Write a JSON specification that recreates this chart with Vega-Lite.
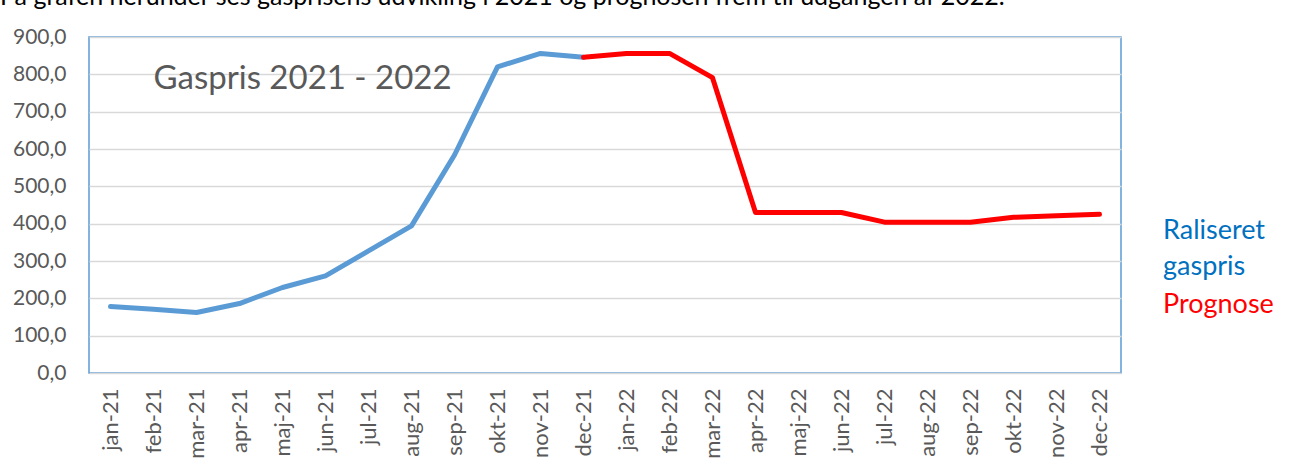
{
  "$schema": "https://vega.github.io/schema/vega-lite/v6.json",
  "width": 1032,
  "height": 336,
  "autosize": {"type": "none"},
  "padding": {"left": 89, "top": 37, "right": 179, "bottom": 85},
  "background": "white",
  "config": {
    "locale": {"number": {"decimal": ",", "thousands": ".", "grouping": [3], "currency": ["", " kr."]}},
    "font": "Lato",
    "view": {"stroke": "#5B9BD5", "strokeWidth": 1.5}
  },
  "title": {
    "text": "På grafen herunder ses gasprisens udvikling i 2021 og prognosen frem til udgangen af 2022.",
    "anchor": "start",
    "frame": "group",
    "dx": -89,
    "offset": -4,
    "baseline": "alphabetic",
    "fontSize": 25,
    "fontWeight": "normal",
    "color": "#000000",
    "font": "Lato"
  },
  "datasets": {
    "gas": [
      {"maaned": "jan-21", "pris": 178, "serie": "Raliseret gaspris"},
      {"maaned": "feb-21", "pris": 171, "serie": "Raliseret gaspris"},
      {"maaned": "mar-21", "pris": 162, "serie": "Raliseret gaspris"},
      {"maaned": "apr-21", "pris": 186, "serie": "Raliseret gaspris"},
      {"maaned": "maj-21", "pris": 229, "serie": "Raliseret gaspris"},
      {"maaned": "jun-21", "pris": 260, "serie": "Raliseret gaspris"},
      {"maaned": "jul-21", "pris": 327, "serie": "Raliseret gaspris"},
      {"maaned": "aug-21", "pris": 394, "serie": "Raliseret gaspris"},
      {"maaned": "sep-21", "pris": 584, "serie": "Raliseret gaspris"},
      {"maaned": "okt-21", "pris": 820, "serie": "Raliseret gaspris"},
      {"maaned": "nov-21", "pris": 856, "serie": "Raliseret gaspris"},
      {"maaned": "dec-21", "pris": 846, "serie": "Raliseret gaspris"},
      {"maaned": "dec-21", "pris": 846, "serie": "Prognose"},
      {"maaned": "jan-22", "pris": 856, "serie": "Prognose"},
      {"maaned": "feb-22", "pris": 856, "serie": "Prognose"},
      {"maaned": "mar-22", "pris": 791, "serie": "Prognose"},
      {"maaned": "apr-22", "pris": 430, "serie": "Prognose"},
      {"maaned": "maj-22", "pris": 430, "serie": "Prognose"},
      {"maaned": "jun-22", "pris": 430, "serie": "Prognose"},
      {"maaned": "jul-22", "pris": 404, "serie": "Prognose"},
      {"maaned": "aug-22", "pris": 404, "serie": "Prognose"},
      {"maaned": "sep-22", "pris": 404, "serie": "Prognose"},
      {"maaned": "okt-22", "pris": 417, "serie": "Prognose"},
      {"maaned": "nov-22", "pris": 421, "serie": "Prognose"},
      {"maaned": "dec-22", "pris": 425, "serie": "Prognose"}
    ],
    "titel": [{"tekst": "Gaspris 2021 - 2022"}]
  },
  "layer": [
    {
      "data": {"name": "gas"},
      "mark": {"type": "line", "strokeWidth": 5, "strokeCap": "round", "strokeJoin": "round"},
      "encoding": {
        "x": {
          "field": "maaned",
          "type": "ordinal",
          "scale": {
            "type": "point",
            "padding": 0.5,
            "domain": ["jan-21","feb-21","mar-21","apr-21","maj-21","jun-21","jul-21","aug-21","sep-21","okt-21","nov-21","dec-21","jan-22","feb-22","mar-22","apr-22","maj-22","jun-22","jul-22","aug-22","sep-22","okt-22","nov-22","dec-22"]
          },
          "axis": {
            "title": null,
            "labelAngle": -90,
            "labelFontSize": 22,
            "labelColor": "#595959",
            "labelPadding": 15,
            "labelOverlap": false,
            "ticks": false,
            "domain": false,
            "grid": false
          }
        },
        "y": {
          "field": "pris",
          "type": "quantitative",
          "scale": {"domain": [0, 900], "nice": false},
          "axis": {
            "title": null,
            "values": [0, 100, 200, 300, 400, 500, 600, 700, 800, 900],
            "format": ".1f",
            "labelFontSize": 21,
            "labelColor": "#595959",
            "labelPadding": 23,
            "labelOverlap": false,
            "labelFlush": false,
            "ticks": false,
            "domain": false,
            "gridColor": "#D9D9D9",
            "gridWidth": 1.5
          }
        },
        "color": {
          "field": "serie",
          "type": "nominal",
          "scale": {"domain": ["Raliseret gaspris", "Prognose"], "range": ["#5B9BD5", "#FF0000"]},
          "legend": {
            "orient": "none",
            "legendX": 1047,
            "legendY": 180,
            "title": null,
            "symbolOpacity": 0,
            "symbolSize": 0,
            "symbolStrokeWidth": 0,
            "labelFontSize": 27,
            "labelFont": "Lato",
            "labelOffset": 0,
            "labelLimit": 300,
            "rowPadding": 10,
            "labelExpr": "datum.value == 'Raliseret gaspris' ? ['Raliseret', 'gaspris'] : datum.label",
            "encode": {
              "labels": {
                "update": {
                  "fill": {"signal": "datum.value == 'Prognose' ? '#FF0000' : '#0070C0'"},
                  "lineHeight": {"value": 36}
                }
              }
            }
          }
        }
      }
    },
    {
      "data": {"name": "titel"},
      "mark": {"type": "text", "align": "left", "baseline": "alphabetic", "fontSize": 33, "color": "#595959", "font": "Lato"},
      "encoding": {
        "text": {"field": "tekst"},
        "x": {
          "datum": "feb-21",
          "axis": {
            "title": null,
            "labelAngle": -90,
            "labelFontSize": 22,
            "labelColor": "#595959",
            "labelPadding": 15,
            "labelOverlap": false,
            "ticks": false,
            "domain": false,
            "grid": false
          }
        },
        "y": {
          "datum": 762,
          "type": "quantitative",
          "axis": {
            "title": null,
            "values": [0, 100, 200, 300, 400, 500, 600, 700, 800, 900],
            "format": ".1f",
            "labelFontSize": 21,
            "labelColor": "#595959",
            "labelPadding": 23,
            "labelOverlap": false,
            "labelFlush": false,
            "ticks": false,
            "domain": false,
            "gridColor": "#D9D9D9",
            "gridWidth": 1.5
          }
        }
      }
    }
  ]
}
